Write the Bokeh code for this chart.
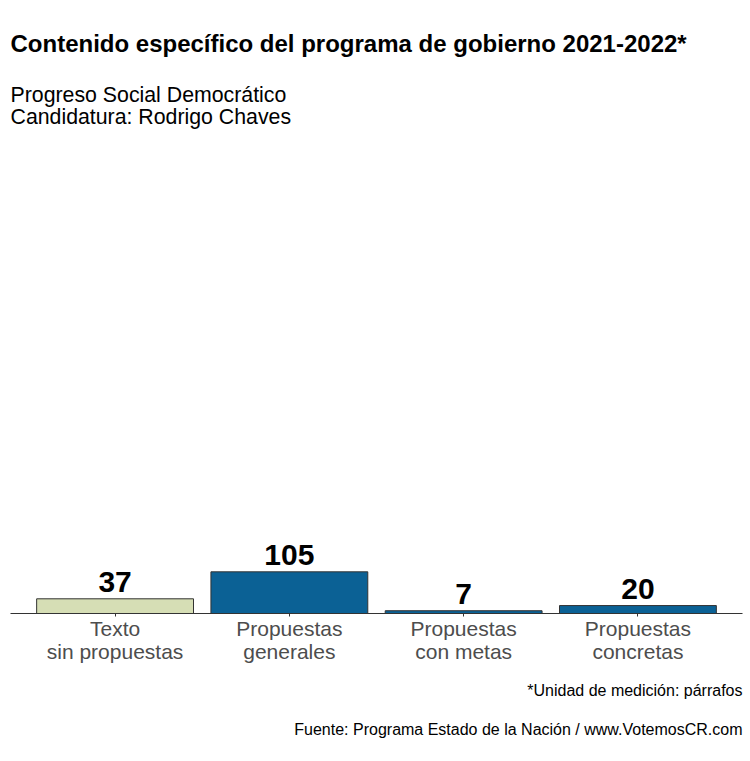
from bokeh.plotting import figure
from bokeh.models import FactorRange, Range1d, Label, ColumnDataSource, Title
from bokeh.core.properties import value
from bokeh.embed import file_html
from bokeh.resources import INLINE

# ---- data ----
categories = ["Texto\nsin propuestas", "Propuestas\ngenerales",
              "Propuestas\ncon metas", "Propuestas\nconcretas"]
counts = [37, 105, 7, 20]
bar_colors = ["#d6deb5", "#0b6195", "#0b6195", "#0b6195"]
value_labels = [str(v) for v in counts]

title_text = "Contenido específico del programa de gobierno 2021-2022*"
subtitle_1 = "Progreso Social Democrático"
subtitle_2 = "Candidatura: Rodrigo Chaves"
footnote_1 = "*Unidad de medición: párrafos"
footnote_2 = "Fuente: Programa Estado de la Nación / www.VotemosCR.com"

FONT = "Liberation Sans"

src = ColumnDataSource(dict(cat=categories, n=counts, color=bar_colors, lab=value_labels))

p = figure(width=750, height=761,
           x_range=FactorRange(*categories, range_padding=0.05),
           y_range=Range1d(0, 1544),
           output_backend="svg", toolbar_location=None,
           y_axis_location=None,
           min_border_left=10, min_border_right=8,
           min_border_top=0, min_border_bottom=148)
p.title.visible = False

p.vbar(x="cat", top="n", width=0.9, source=src, fill_color="color",
       line_color="#333333", line_width=1)
p.text(x="cat", y="n", text="lab", source=src, text_align="center",
       text_baseline="bottom", y_offset=-7,
       text_font=value(FONT), text_font_style="bold", text_font_size="30px",
       text_color="black")

p.xgrid.visible = False
p.ygrid.visible = False
p.outline_line_color = None
p.background_fill_color = "white"
p.border_fill_color = "white"

ax = p.xaxis[0]
ax.axis_line_color = "#333333"
ax.axis_line_width = 1.2
ax.major_tick_line_color = "#333333"
ax.major_tick_out = 3
ax.major_tick_in = 0
ax.minor_tick_line_color = None
ax.major_label_text_font = FONT
ax.major_label_text_font_size = "21px"
ax.major_label_text_color = "#4d4d4d"
ax.major_label_text_line_height = 1.0
ax.major_label_standoff = 0

# titles (screen units relative to frame bottom-left)
p.add_layout(Label(x=0, y=570, x_units="screen", y_units="screen", text=title_text,
                   text_font=FONT, text_font_style="bold", text_font_size="24px",
                   text_color="black", text_baseline="alphabetic"))
p.add_layout(Label(x=0, y=519, x_units="screen", y_units="screen", text=subtitle_1,
                   text_font=FONT, text_font_size="21.3px",
                   text_color="black", text_baseline="alphabetic"))
p.add_layout(Label(x=0, y=497, x_units="screen", y_units="screen", text=subtitle_2,
                   text_font=FONT, text_font_size="21.3px",
                   text_color="black", text_baseline="alphabetic"))

p.add_layout(Title(text=footnote_1, align="right", text_font=FONT,
                   text_font_size="16px", text_font_style="normal",
                   text_color="black", standoff=28), "below")
p.add_layout(Title(text=footnote_2, align="right", text_font=FONT,
                   text_font_size="16px", text_font_style="normal",
                   text_color="black", standoff=13), "below")

open("out.html", "w").write(file_html(p, INLINE))
